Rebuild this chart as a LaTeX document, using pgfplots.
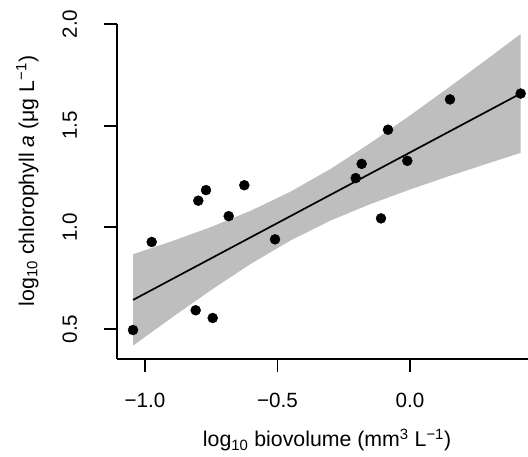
\documentclass[border=0pt]{standalone}
\usepackage{fontspec}
\setmainfont{Liberation Sans}
\usepackage{pgfplots}
\pgfplotsset{compat=1.18}
\definecolor{bandgray}{RGB}{190,190,190}
\newcommand{\rfont}{\fontsize{20.6}{24}\selectfont}
\newcommand{\lfont}{\fontsize{21.3}{25}\selectfont}
\begin{document}
\begin{tikzpicture}
\useasboundingbox (-117pt,-98pt) rectangle (411pt,359pt);
\begin{axis}[
  at={(0pt,0pt)}, anchor=south west,
  scale only axis, width=411pt, height=335pt,
  xmin=-1.1057, xmax=0.4453, ymin=0.3524, ymax=2.0,
  axis x line*=bottom, axis y line*=left,
  axis line style={-, line width=1.8pt, black},
  xtick={-1,-0.5,0}, xticklabels={−1.0,−0.5,0.0},
  ytick={0.5,1,1.5,2}, yticklabels={0.5,1.0,1.5,2.0},
  tick align=outside, major tick length=13pt,
  every tick/.style={line width=1.8pt, black},
  xticklabel shift=21pt, yticklabel shift=27pt,
  xticklabel style={anchor=north, inner sep=0pt, font=\rfont},
  yticklabel style={rotate=90, anchor=base, inner sep=0pt, font=\rfont},
  xlabel={log\textsubscript{10} biovolume (mm\textsuperscript{3} L\textsuperscript{−1})},
  xlabel style={at={(axis description cs:0.511,-0.2627)}, anchor=base, inner sep=0pt, font=\lfont},
  ylabel={log\textsubscript{10} chlorophyll \textit{a} (μg L\textsuperscript{−1})},
  ylabel style={at={(axis description cs:-0.2019,0.531)}, anchor=base, inner sep=0pt, font=\lfont},
  clip=false,
]
\addplot[fill=bandgray, draw=none] coordinates {
 (-1.045,0.868) (-0.9,0.931) (-0.75,1.002) (-0.6,1.082) (-0.45,1.176) (-0.3,1.287)
 (-0.15,1.414) (0,1.550) (0.15,1.691) (0.3,1.836) (0.4177,1.951)
 (0.4177,1.366) (0.3,1.317) (0.15,1.253) (0,1.186) (-0.15,1.114) (-0.3,1.033)
 (-0.45,0.936) (-0.6,0.821) (-0.75,0.692) (-0.9,0.555) (-1.045,0.418)
} -- cycle;
\addplot[black, line width=1.7pt] coordinates {(-1.045,0.643) (0.4177,1.658)};
\addplot[only marks, mark=*, mark size=5pt, black] coordinates {
 (-1.0453,0.495) (-0.9747,0.928) (-0.8087,0.592) (-0.7445,0.554)
 (-0.7989,1.131) (-0.7698,1.183) (-0.6842,1.055) (-0.6253,1.207)
 (-0.5094,0.941) (-0.2049,1.242) (-0.1823,1.312) (-0.1094,1.044)
 (-0.0830,1.480) (-0.0102,1.327) (0.1509,1.629) (0.4177,1.658)
};
\end{axis}
\end{tikzpicture}
\end{document}
